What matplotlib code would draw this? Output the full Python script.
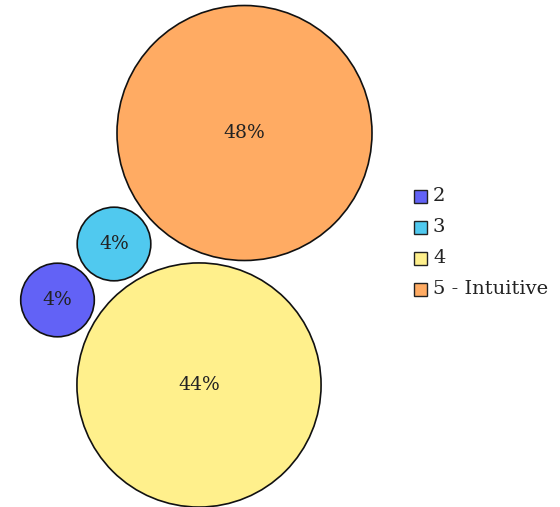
import matplotlib
matplotlib.use("Agg")
import matplotlib.pyplot as plt
from matplotlib.patches import Circle, Rectangle
import numpy as np

categories = ["2", "3", "4", "5 - Intuitive"]
values = [4, 4, 44, 48]
colors = ["#6262f6", "#50c9ef", "#fff08c", "#ffab63"]
# bubble centres (layout, pixel units)
centers = [(57.5, 300), (114, 244), (199, 385), (244.5, 133)]
scale = 127.5 / np.sqrt(48)

W, H = 560, 507
fig = plt.figure(figsize=(W / 100, H / 100), dpi=100)
ax = fig.add_axes([0, 0, 1, 1])
ax.set_xlim(0, W)
ax.set_ylim(H, 0)
ax.set_aspect("equal")
ax.axis("off")

font = "DejaVu Serif"
for v, c, (cx, cy) in zip(values, colors, centers):
    r = scale * np.sqrt(v)
    ax.add_patch(Circle((cx, cy), r, facecolor=c, edgecolor="#111111", linewidth=1.2))
    ax.text(cx, cy, f"{v}%", ha="center", va="center", fontsize=13.5, family=font, color="#222222")

# legend
for i, (lab, c) in enumerate(zip(categories, colors)):
    y = 196 + i * 31
    ax.add_patch(Rectangle((414, y - 6.5), 13, 13, facecolor=c, edgecolor="#222222", linewidth=1.0))
    ax.text(433, y, lab, ha="left", va="center", fontsize=14, family=font, color="#222222")

fig.savefig("out.png", dpi=100)
